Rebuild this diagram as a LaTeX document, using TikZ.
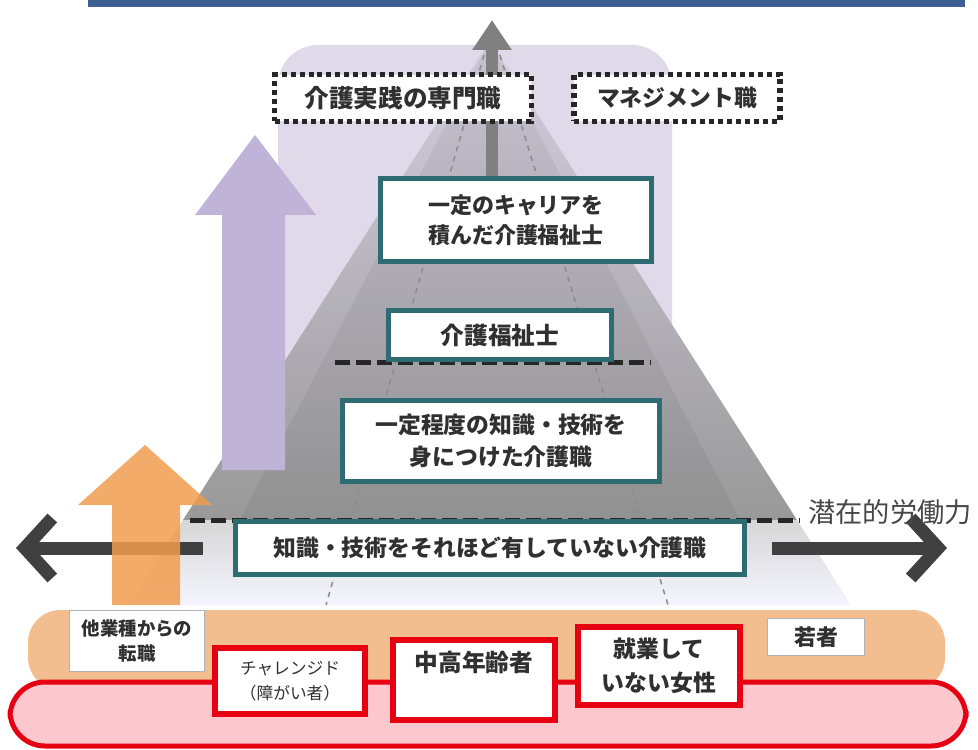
\documentclass[tikz,border=0pt]{standalone}
\usepackage{fontspec}
\setmainfont{Noto Sans CJK JP}
\usepackage{tikz}
\usetikzlibrary{arrows.meta,positioning,calc}
\definecolor{tealline}{HTML}{2F6B72}
\definecolor{redline}{HTML}{E60012}
\definecolor{lavender}{HTML}{DFD9EA}
\definecolor{lavarrow}{HTML}{BFB4D8}
\definecolor{orangearrow}{HTML}{F09C4E}
\definecolor{orangeband}{HTML}{F3BE8F}
\definecolor{pinkband}{HTML}{FCC7CD}
\definecolor{barblue}{HTML}{3D5F93}
\definecolor{textgray}{HTML}{303030}

\begin{document}
\begin{tikzpicture}[x=0.02cm, y=-0.02cm,
    every node/.style={font=\bfseries\fontsize{12.5}{17}\selectfont, text=textgray, align=center, inner sep=0pt},
    tealbox/.style={draw=tealline, line width=0.1cm, fill=white},
    redbox/.style={draw=redline, line width=0.12cm, fill=white},
    dotbox/.style={draw=black!85, line width=0.11cm, dash pattern=on 0.1cm off 0.08cm, fill=white},
    whitebox/.style={draw=black!30, line width=0.02cm, fill=white},
    levelline/.style={draw=black!85, line width=0.1cm, dash pattern=on 0.3cm off 0.12cm},
    laneline/.style={draw=black!45, line width=0.03cm, dashed},
    flowarrow/.style={draw=black!75, line width=0.26cm, -{Straight Barb[length=0.55cm, width=1.2cm]}}]
  \useasboundingbox (0,0) rectangle (978,750);
  \fill[barblue] (88,-5) rectangle (965,7);
  \fill[lavender, rounded corners=0.8cm] (278,45) rectangle (672,560);
  \shade[top color=black!5!lavender, bottom color=black!40] (490,40) -- (183,520) -- (797,520) -- cycle;
  \shade[top color=black!16, bottom color=blue!4!white] (183,520) -- (129,605) -- (851,605) -- (797,520) -- cycle;
  \fill[black, opacity=0.05] (490,40) -- (240,520) -- (740,520) -- cycle;
  \draw[laneline] (484,55) -- (326,605);
  \draw[laneline] (500,55) -- (668,605);
  \fill[lavarrow] (222,470) -- (222,215) -- (195,215) -- (255,135) -- (316,215) -- (285,215) -- (285,470) -- cycle;
  \draw[levelline] (335,362) -- (650,362);
  \draw[levelline] (190,520) -- (800,520);

  \node[tealbox, minimum width=5.44cm, minimum height=1.68cm] (career) at (516,220) {一定のキャリアを\\積んだ介護福祉士};
  \node[tealbox, minimum width=4.48cm, minimum height=1.0cm, font=\bfseries\fontsize{13.5}{17}\selectfont] (cw) at (500,335) {介護福祉士};
  \node[tealbox, minimum width=6.36cm, minimum height=1.64cm, font=\bfseries\fontsize{13}{18}\selectfont] (mid) at (501,441) {一定程度の知識・技術を\\身につけた介護職};
  \node[tealbox, minimum width=10.2cm, minimum height=1.06cm, font=\bfseries\fontsize{13}{17}\selectfont] (novice) at (490,548) {知識・技術をそれほど有していない介護職};

  \coordinate (top) at (492,20);
  \draw[draw=black!50, line width=0.24cm, -{Triangle[length=0.6cm, width=0.75cm]}] (career.north -| top) -- (top);
  \node[dotbox, minimum width=5.14cm, minimum height=0.94cm, font=\bfseries\fontsize{14}{16}\selectfont] (spec) at (403,98) {介護実践の専門職};
  \node[dotbox, minimum width=4.12cm, minimum height=0.94cm, font=\bfseries\fontsize{13}{16}\selectfont] (mgmt) at (677,98) {マネジメント職};

  \coordinate (leftend) at (16,548);
  \coordinate (rightend) at (947,548);
  \draw[flowarrow] ([xshift=-0.6cm]novice.west) -- (leftend);
  \draw[flowarrow] ([xshift=0.5cm]novice.east) -- (rightend);
  \node[font=\fontsize{15.5}{18}\selectfont, text=black!72, anchor=west] (labor) at (808,512) {潜在的労働力};
  \fill[orangearrow, opacity=0.85] (112,605) -- (112,505) -- (78,505) -- (145,445) -- (212,505) -- (180,505) -- (180,605) -- cycle;

  \fill[orangeband, rounded corners=0.65cm] (28,610) rectangle (945,690);
  \draw[fill=pinkband, draw=redline, line width=0.1cm, rounded corners=0.7cm] (10,682) rectangle (966,746);

  \node[whitebox, minimum width=2.7cm, minimum height=1.24cm, font=\bfseries\fontsize{10.5}{14}\selectfont] (trans) at (137,641) {他業種からの\\転職};
  \node[whitebox, minimum width=1.94cm, minimum height=0.76cm] (young) at (816,637) {若者};
  \node[redbox, minimum width=3.0cm, minimum height=1.34cm, font=\fontsize{9.5}{14}\selectfont] (chal) at (290,681) {チャレンジド\\（障がい者）};
  \node[redbox, minimum width=3.24cm, minimum height=1.6cm, font=\bfseries\fontsize{13.5}{16}\selectfont, text depth=0.75cm] (old) at (474,680) {中高年齢者};
  \node[redbox, minimum width=3.24cm, minimum height=1.56cm, font=\bfseries\fontsize{13}{19}\selectfont] (women) at (659,666) {就業して\\いない女性};
\end{tikzpicture}
\end{document}
